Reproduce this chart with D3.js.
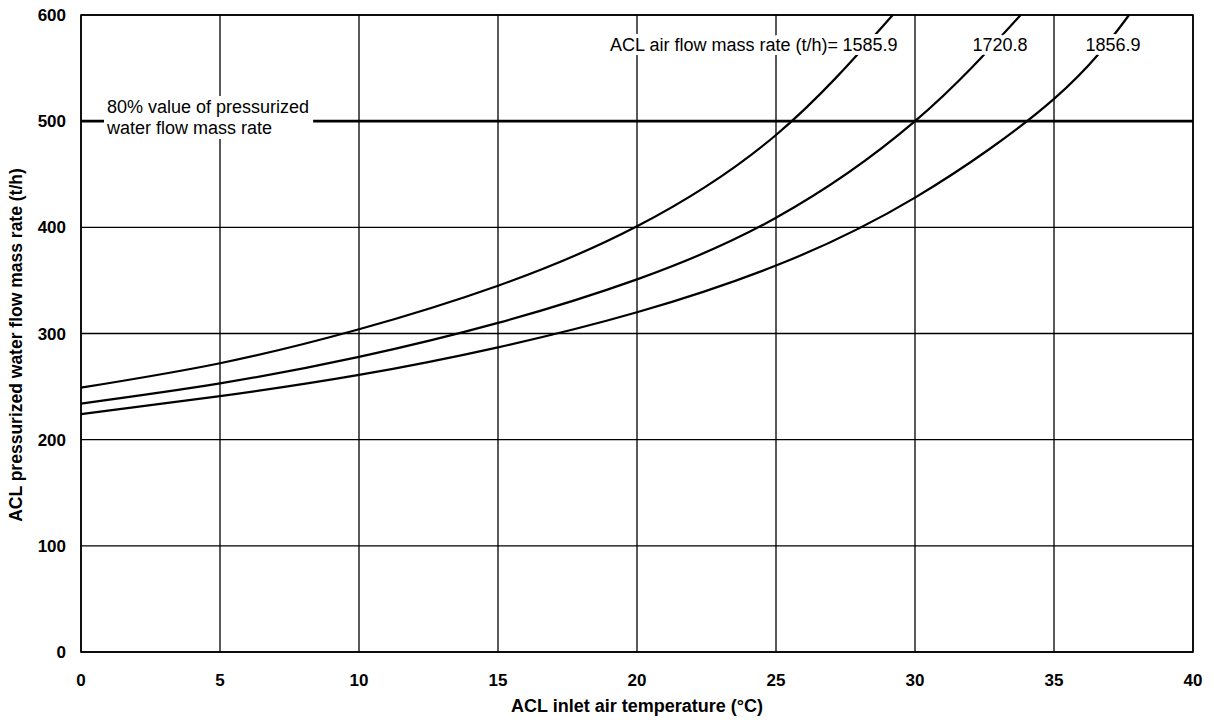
<!DOCTYPE html>
<html>
<head>
<meta charset="utf-8">
<script src="https://cdn.jsdelivr.net/npm/d3@7/dist/d3.min.js"></script>
<style>
  html, body { margin: 0; padding: 0; background: #fff; }
  svg { display: block; }
  text { font-family: "Liberation Sans", Arial, sans-serif; fill: #000; }
</style>
</head>
<body>
<svg id="chart" width="1214" height="728"></svg>
<script>
// ---- Data ----
const xTicks = [0, 5, 10, 15, 20, 25, 30, 35, 40];
const yTicks = [0, 100, 200, 300, 400, 500, 600];
const airFlowLabels = ["1585.9", "1720.8", "1856.9"];
// [temperature °C, water flow t/h]
const series1585 = [[0,249],[5,272],[10,304],[15,345],[20,401],[25,487],[29.2,600]];
const series1720 = [[0,234],[5,253],[10,278],[15,310],[20,351],[25,409],[30,500],[33.8,600]];
const series1856 = [[0,224],[5,241],[10,261],[15,287],[20,320],[25,364],[30,428],[35,521],[37.7,600]];
const limitValue = 500; // 80% value of pressurized water flow mass rate

const svg = d3.select("#chart");
const m = { left: 81, right: 1193, top: 15, bottom: 652 };
const x = d3.scaleLinear().domain([0, 40]).range([m.left, m.right]);
const y = d3.scaleLinear().domain([0, 600]).range([m.bottom, m.top]);

// Grid
const g = svg.append("g");
g.selectAll(".vg").data(xTicks).enter().append("line")
  .attr("x1", d => x(d)).attr("x2", d => x(d))
  .attr("y1", y(0)).attr("y2", y(600))
  .attr("stroke", "#000").attr("stroke-width", 1.3);
g.selectAll(".hg").data(yTicks).enter().append("line")
  .attr("x1", x(0)).attr("x2", x(40))
  .attr("y1", d => y(d)).attr("y2", d => y(d))
  .attr("stroke", "#000").attr("stroke-width", 1.3);

// Border
g.append("rect").attr("x", x(0)).attr("y", y(600))
  .attr("width", x(40) - x(0)).attr("height", y(0) - y(600))
  .attr("fill", "none").attr("stroke", "#000").attr("stroke-width", 1.6);

// Limit line
g.append("line").attr("x1", x(0)).attr("x2", x(40))
  .attr("y1", y(limitValue)).attr("y2", y(limitValue))
  .attr("stroke", "#000").attr("stroke-width", 2.8);

// Curves
const line = d3.line().x(d => x(d[0])).y(d => y(d[1])).curve(d3.curveNatural);
[series1585, series1720, series1856].forEach(s => {
  g.append("path").datum(s).attr("d", line)
    .attr("fill", "none").attr("stroke", "#000").attr("stroke-width", 2.2);
});

function halo(sel) {
  sel.attr("stroke", "#fff").attr("stroke-width", 8).attr("paint-order", "stroke")
     .attr("stroke-linejoin", "round");
}

// 80% annotation with white background block
const annG = svg.append("g");
const annBg = annG.append("rect").attr("fill", "#fff");
const ann = annG.append("text").attr("x", 107).attr("y", 113).attr("font-size", 18);
ann.append("tspan").attr("x", 107).attr("dy", 0).text("80% value of pressurized");
ann.append("tspan").attr("x", 107).attr("dy", 21).text("water flow mass rate");
const bb = ann.node().getBBox();
annBg.attr("x", bb.x - 2).attr("y", bb.y - 1).attr("width", bb.width + 6).attr("height", bb.height + 2);

// Air flow labels
svg.append("text").attr("x", 838).attr("y", 51).attr("text-anchor", "end")
  .attr("font-size", 18).call(halo)
  .text("ACL air flow mass rate (t/h)=");
svg.append("text").attr("x", 870).attr("y", 51).attr("text-anchor", "middle")
  .attr("font-size", 18).call(halo).text(airFlowLabels[0]);
svg.append("text").attr("x", 1000).attr("y", 51).attr("text-anchor", "middle")
  .attr("font-size", 18).call(halo).text(airFlowLabels[1]);
svg.append("text").attr("x", 1113).attr("y", 51).attr("text-anchor", "middle")
  .attr("font-size", 18).call(halo).text(airFlowLabels[2]);

// Tick labels
svg.selectAll(".xt").data(xTicks).enter().append("text")
  .attr("x", d => x(d)).attr("y", 686).attr("text-anchor", "middle")
  .attr("font-size", 17).attr("font-weight", "bold").text(d => d);
svg.selectAll(".yt").data(yTicks).enter().append("text")
  .attr("x", 66).attr("y", d => y(d) + 6).attr("text-anchor", "end")
  .attr("font-size", 17).attr("font-weight", "bold").text(d => d);

// Axis titles
svg.append("text").attr("x", 637).attr("y", 712).attr("text-anchor", "middle")
  .attr("font-size", 18).attr("font-weight", "bold")
  .text("ACL inlet air temperature (°C)");
svg.append("text").attr("transform", "translate(22,345) rotate(-90)")
  .attr("text-anchor", "middle").attr("font-size", 17.5).attr("font-weight", "bold")
  .text("ACL pressurized water flow mass rate (t/h)");
</script>
</body>
</html>
